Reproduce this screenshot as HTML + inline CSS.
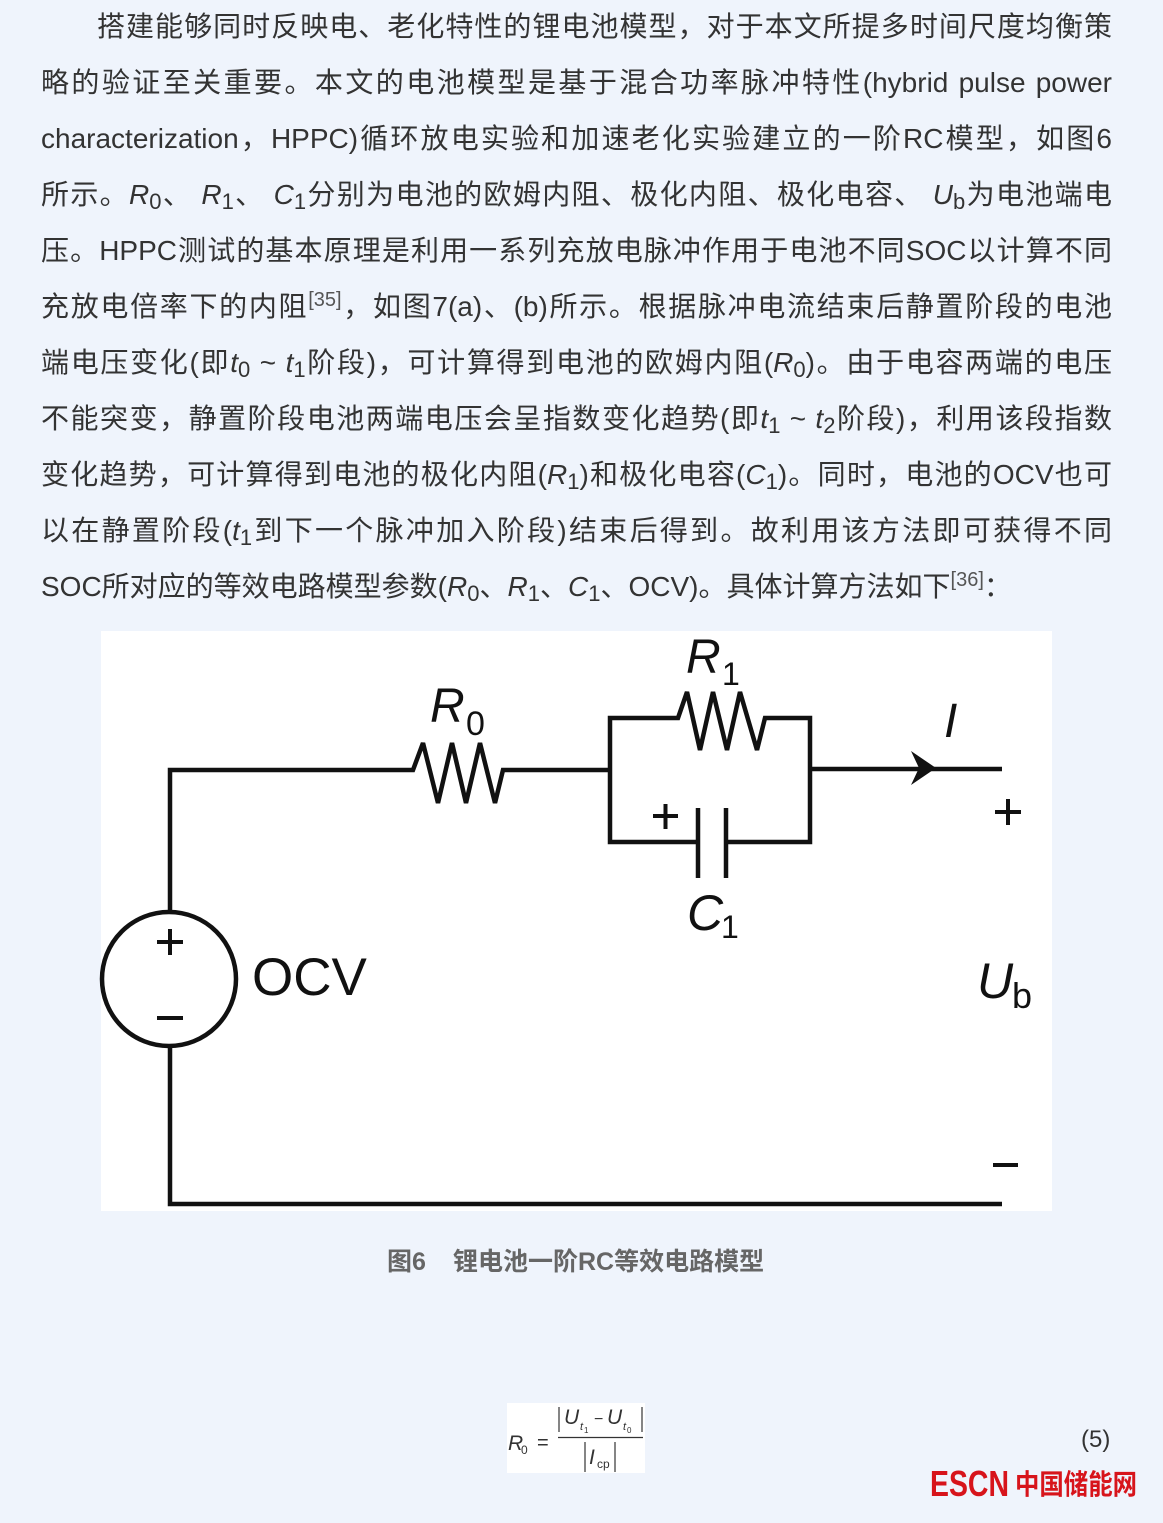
<!DOCTYPE html>
<html><head><meta charset="utf-8">
<style>
html,body{margin:0;padding:0;}
body{width:1163px;height:1523px;background:#eff4fc;position:relative;overflow:hidden;font-family:"Liberation Sans","Noto Sans CJK SC",sans-serif;color:#333;}
.ln{position:absolute;left:41px;width:1071px;height:56px;line-height:56px;font-size:28px;text-align:justify;text-align-last:justify;}
.ln.last{text-align:left;text-align-last:left;}
.ln i{font-style:italic;font-family:"Liberation Sans",sans-serif;}
.ln sub{font-size:22px;vertical-align:-5px;line-height:0;font-style:normal;}
.ln sup{font-size:20px;vertical-align:10px;line-height:0;color:#555;}
svg text{font-family:"Liberation Sans","Noto Sans CJK SC",sans-serif;}
</style></head>
<body>
<div class="ln" style="top:-1px;text-indent:56px;">搭建能够同时反映电、老化特性的锂电池模型，对于本文所提多时间尺度均衡策</div>
<div class="ln" style="top:55px;">略的验证至关重要。本文的电池模型是基于混合功率脉冲特性(hybrid pulse power</div>
<div class="ln" style="top:111px;">characterization，HPPC)循环放电实验和加速老化实验建立的一阶RC模型，如图6</div>
<div class="ln" style="top:167px;">所示。<i>R</i><sub>0</sub>、 <i>R</i><sub>1</sub>、 <i>C</i><sub>1</sub>分别为电池的欧姆内阻、极化内阻、极化电容、 <i>U</i><sub>b</sub>为电池端电</div>
<div class="ln" style="top:223px;">压。HPPC测试的基本原理是利用一系列充放电脉冲作用于电池不同SOC以计算不同</div>
<div class="ln" style="top:279px;">充放电倍率下的内阻<sup>[35]</sup>，如图7(a)、(b)所示。根据脉冲电流结束后静置阶段的电池</div>
<div class="ln" style="top:335px;">端电压变化(即<i>t</i><sub>0</sub> ~ <i>t</i><sub>1</sub>阶段)，可计算得到电池的欧姆内阻(<i>R</i><sub>0</sub>)。由于电容两端的电压</div>
<div class="ln" style="top:391px;">不能突变，静置阶段电池两端电压会呈指数变化趋势(即<i>t</i><sub>1</sub> ~ <i>t</i><sub>2</sub>阶段)，利用该段指数</div>
<div class="ln" style="top:447px;">变化趋势，可计算得到电池的极化内阻(<i>R</i><sub>1</sub>)和极化电容(<i>C</i><sub>1</sub>)。同时，电池的OCV也可</div>
<div class="ln" style="top:503px;">以在静置阶段(<i>t</i><sub>1</sub>到下一个脉冲加入阶段)结束后得到。故利用该方法即可获得不同</div>
<div class="ln last" style="top:559px;">SOC所对应的等效电路模型参数(<i>R</i><sub>0</sub>、<i>R</i><sub>1</sub>、<i>C</i><sub>1</sub>、OCV)。具体计算方法如下<sup>[36]</sup>：</div>

<svg width="1163" height="1523" style="position:absolute;left:0;top:0" xmlns="http://www.w3.org/2000/svg">
  <rect x="101" y="631" width="951" height="580" fill="#ffffff"/>
  <g fill="none" stroke="#111" stroke-width="4.5" stroke-linejoin="miter" stroke-miterlimit="3">
    <path d="M170,912 V770 H413 L423,743 L438,803 L452,743 L466,803 L480,743 L495,803 L503,770 H610"/>
    <path d="M698,842 H610 V718 H678 L687,692 L700,750 L713,692 L727,750 L740,692 L757,750 L765,718 H810 V842 H726"/>
    <path d="M698,808 V878 M726,808 V878"/>
    <path d="M810,769 H1002"/>
    <circle cx="169" cy="979" r="67"/>
    <path d="M170,1046 V1204 H1002"/>
  </g>
  <g fill="none" stroke="#111" stroke-width="4">
    <path d="M157,942 H183 M170,929 V955"/>
    <path d="M157,1018 H183"/>
    <path d="M653,816 H678 M665.5,804 V829"/>
    <path d="M995,812 H1021 M1008,799 V825"/>
    <path d="M993,1165 H1018"/>
  </g>
  <path d="M936,768 L911,751 L919,768 L911,785 Z" fill="#111"/>

  <g fill="#111">
    <text x="430" y="722" font-size="48" font-style="italic">R</text>
    <text x="466" y="735" font-size="34">0</text>
    <text x="686" y="673" font-size="48" font-style="italic">R</text>
    <text x="722" y="685" font-size="32">1</text>
    <text x="687" y="930" font-size="50" font-style="italic">C</text>
    <text x="721" y="938" font-size="32">1</text>
    <text x="252" y="995" font-size="53">OCV</text>
    <text x="944" y="737" font-size="48" font-style="italic">I</text>
    <text x="977" y="998" font-size="50" font-style="italic">U</text>
    <text x="1012" y="1008" font-size="36">b</text>
  </g>

  <text x="387" y="1270" font-size="25" font-weight="bold" fill="#666">图6</text>
  <text x="453" y="1270" font-size="25" font-weight="bold" fill="#666">锂电池一阶RC等效电路模型</text>

  <rect x="507" y="1403" width="138" height="70" fill="#ffffff"/>
  <g fill="#333">
    <text x="508" y="1450" font-size="21" font-style="italic">R</text>
    <text x="521" y="1454" font-size="12">0</text>
    <text x="537" y="1449" font-size="20">=</text>
    <text x="564" y="1424" font-size="21" font-style="italic">U</text>
    <text x="580" y="1430" font-size="11" font-style="italic">t</text>
    <text x="584" y="1433" font-size="8">1</text>
    <text x="594" y="1424" font-size="16">−</text>
    <text x="607" y="1424" font-size="21" font-style="italic">U</text>
    <text x="623" y="1430" font-size="11" font-style="italic">t</text>
    <text x="627" y="1433" font-size="8">0</text>
    <text x="589" y="1464" font-size="21" font-style="italic">I</text>
    <text x="597" y="1468" font-size="12">cp</text>
  </g>
  <g stroke="#333" stroke-width="1.2">
    <line x1="558" y1="1437.5" x2="643" y2="1437.5"/>
    <line x1="559" y1="1407" x2="559" y2="1432"/>
    <line x1="642" y1="1407" x2="642" y2="1432"/>
    <line x1="585" y1="1442" x2="585" y2="1472"/>
    <line x1="615" y1="1442" x2="615" y2="1472"/>
  </g>

  <text x="1081" y="1447" font-size="24" fill="#333">(5)</text>

  <text x="930" y="1496" font-size="36" font-weight="bold" fill="#d7141b" textLength="79" lengthAdjust="spacingAndGlyphs">ESCN</text>
  <text x="1015" y="1494" font-size="28" font-weight="bold" fill="#d7141b" textLength="122" lengthAdjust="spacingAndGlyphs">中国储能网</text>
</svg>
</body></html>
